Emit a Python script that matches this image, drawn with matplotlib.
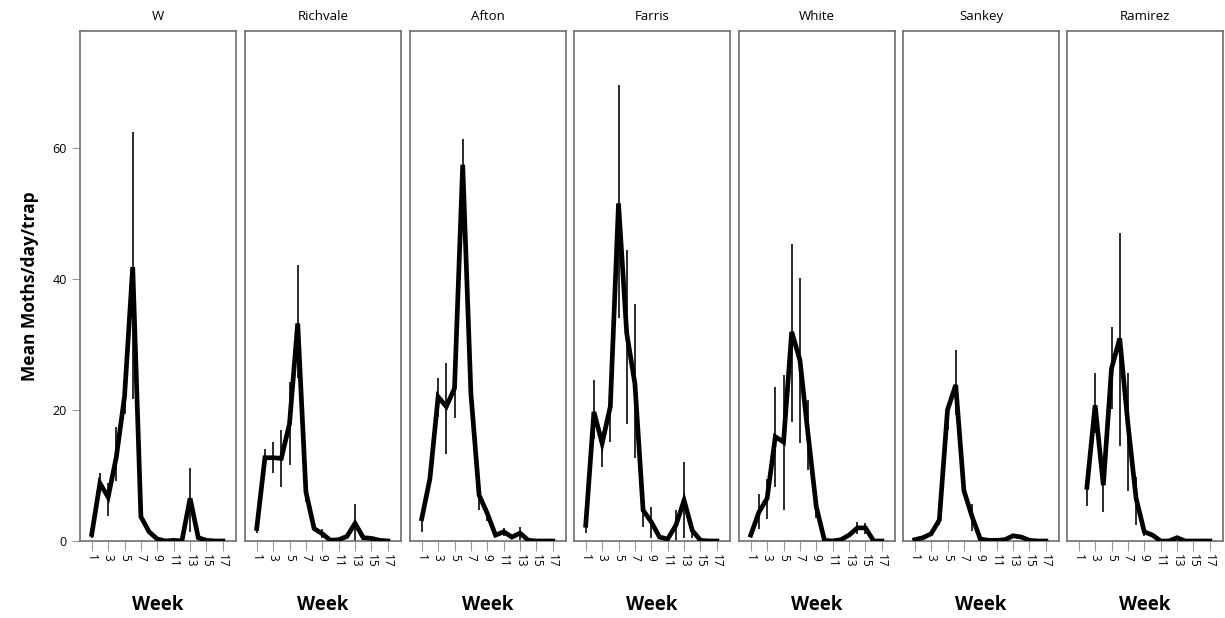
import numpy as np
import matplotlib.pyplot as plt

plt.rcParams['font.family'] = ['Open Sans', 'DejaVu Sans']

# --- Data ---------------------------------------------------------------------
sites = ["W", "Richvale", "Afton", "Farris", "White", "Sankey", "Ramirez"]
weeks = list(range(1, 18))
nan = np.nan

w_mean = [1.0, 8.8, 6.7, 12.8, 22.0, 41.8, 3.7, 1.4, 0.3, 0.0, 0.1, 0.0, 6.5, 0.5, 0.1, 0.0, 0.0]
w_lo = [0.5, 7.5, 3.8, 9.1, 19.4, 21.6, nan, nan, nan, nan, nan, nan, 1.4, nan, nan, nan, nan]
w_hi = [1.5, 10.4, 8.8, 17.4, 24.0, 62.4, nan, nan, nan, nan, nan, nan, 11.2, nan, nan, nan, nan]

richvale_mean = [1.9, 12.7, 12.7, 12.6, 17.9, 33.2, 7.5, 1.9, 1.1, 0.1, 0.2, 0.7, 2.7, 0.5, 0.4, 0.1, 0.0]
richvale_lo = [1.2, 11.5, 10.4, 8.2, 11.6, 24.8, 6.0, nan, 0.5, nan, nan, nan, 0.0, nan, nan, nan, nan]
richvale_hi = [2.6, 14.0, 15.1, 16.9, 24.3, 42.1, 8.5, nan, 1.8, nan, nan, nan, 5.6, nan, nan, nan, nan]

afton_mean = [3.4, 9.5, 22.0, 20.5, 23.3, 57.4, 22.5, 7.0, 4.2, 0.9, 1.4, 0.6, 1.2, 0.1, 0.0, 0.0, 0.0]
afton_lo = [1.4, nan, 18.9, 13.3, 18.7, 49.0, nan, 4.7, 3.0, nan, 0.8, nan, 0.2, nan, nan, nan, nan]
afton_hi = [4.8, nan, 24.8, 27.1, 24.0, 61.4, nan, 7.5, 5.0, nan, 2.0, nan, 2.2, nan, nan, nan, nan]

farris_mean = [2.4, 19.7, 14.9, 20.5, 51.5, 31.7, 24.0, 4.7, 2.9, 0.6, 0.3, 2.4, 6.2, 1.6, 0.1, 0.0, 0.0]
farris_lo = [1.2, 15.5, 11.3, 15.1, 34.0, 17.9, 12.6, 2.1, 0.5, nan, nan, 0.0, 0.4, 0.4, nan, nan, nan]
farris_hi = [3.0, 24.5, 16.0, 22.0, 69.5, 44.4, 36.2, 5.0, 5.2, nan, nan, 4.7, 12.1, 2.1, nan, nan, nan]

white_mean = [0.9, 4.4, 6.5, 15.9, 15.1, 31.9, 27.6, 16.2, 5.2, 0.1, 0.0, 0.2, 0.9, 2.0, 2.0, 0.0, 0.0]
white_lo = [nan, 1.9, 3.3, 8.2, 4.7, 18.2, 15.0, 10.9, 3.5, nan, nan, nan, nan, 1.0, 1.0, nan, nan]
white_hi = [nan, 7.2, 9.5, 23.5, 25.3, 45.3, 40.1, 21.5, 6.0, nan, nan, nan, nan, 2.9, 2.8, nan, nan]

sankey_mean = [0.2, 0.5, 1.1, 3.2, 20.0, 23.8, 7.7, 3.7, 0.3, 0.1, 0.1, 0.2, 0.8, 0.6, 0.1, 0.0, 0.0]
sankey_lo = [nan, nan, nan, 2.5, 17.0, 19.2, nan, 1.6, nan, nan, nan, nan, 0.4, 0.3, nan, nan, nan]
sankey_hi = [nan, nan, nan, 3.8, 20.5, 29.1, nan, 5.7, nan, nan, nan, nan, 1.1, 0.8, nan, nan, nan]

ramirez_mean = [nan, 8.2, 20.7, 8.5, 26.3, 30.9, 17.9, 6.5, 1.4, 0.9, 0.0, 0.0, 0.5, 0.0, 0.0, 0.0, 0.0]
ramirez_lo = [nan, 5.3, 16.5, 4.4, 20.1, 14.5, 7.7, 2.4, 0.8, nan, nan, nan, nan, nan, nan, nan, nan]
ramirez_hi = [nan, 10.8, 25.6, 12.5, 32.6, 47.0, 25.6, 9.8, 1.8, nan, nan, nan, nan, nan, nan, nan, nan]

means = [w_mean, richvale_mean, afton_mean, farris_mean, white_mean, sankey_mean, ramirez_mean]
lows = [w_lo, richvale_lo, afton_lo, farris_lo, white_lo, sankey_lo, ramirez_lo]
highs = [w_hi, richvale_hi, afton_hi, farris_hi, white_hi, sankey_hi, ramirez_hi]

# --- Layout (pixels) ----------------------------------------------------------
W, H = 1225, 618
panel_left = [80, 245, 410, 574, 739, 903, 1067]
panel_w = 156
top, bottom = 31, 541
frame_col = "#6e6e6e"

fig = plt.figure(figsize=(W / 100, H / 100), dpi=100)

for i, site in enumerate(sites):
    ax = fig.add_axes([panel_left[i] / W, (H - bottom) / H, panel_w / W, (bottom - top) / H])
    x = np.array(weeks)
    m = np.array(means[i], dtype=float)
    lo = np.array(lows[i], dtype=float)
    hi = np.array(highs[i], dtype=float)

    ax.vlines(x, lo, hi, colors="#1a1a1a", lw=1.3, zorder=2)
    ax.plot(x, m, color="black", lw=3.4, solid_joinstyle="miter", zorder=3)

    ax.set_xlim(-0.43, 18.6)
    ax.set_ylim(0, 77.8)
    ax.set_xticks(range(1, 18, 2))
    ax.set_xticklabels([str(t) for t in range(1, 18, 2)], rotation=-90, fontsize=8.5)
    ax.tick_params(axis="x", direction="out", length=7, width=0.8, color="#999999", pad=2)
    if i == 0:
        ax.set_yticks([0, 20, 40, 60])
        ax.tick_params(axis="y", direction="out", length=6, width=0.8, color="#999999", labelsize=9)
        ax.set_ylabel("Mean Moths/day/trap", fontsize=12.5, fontweight="bold", labelpad=10)
    else:
        ax.set_yticks([])
    for sp in ax.spines.values():
        sp.set_color(frame_col)
        sp.set_linewidth(1.2)
    ax.set_title(site, fontsize=9.5, pad=8)
    ax.set_xlabel("Week", fontsize=13.5, fontweight="bold", labelpad=20)

fig.savefig("out.png", dpi=100)
